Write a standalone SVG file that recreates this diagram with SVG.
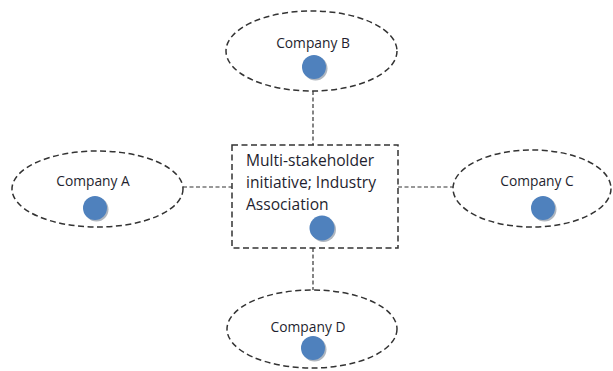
<svg xmlns="http://www.w3.org/2000/svg" width="613" height="371" viewBox="0 0 613 371">
<style>
.shape{fill:none;stroke:#333;stroke-width:1.5;stroke-dasharray:6 3.5}
.conn{fill:none;stroke:#333;stroke-width:1.2;stroke-dasharray:4 2.5}
.lbl{font-family:"Open Sans","Liberation Sans",sans-serif;font-size:13.8px;fill:#1f1f2f}
.blbl{font-family:"Open Sans","Liberation Sans",sans-serif;font-size:15.6px;fill:#1f1f2f}
.dot{fill:#4f81bd}
.sh{fill:#7a8694;opacity:0.6}
</style>
<rect width="613" height="371" fill="#fff"/>
<g id="connectors">
<line class="conn" x1="313" y1="91" x2="313" y2="145"/>
<line class="conn" x1="313" y1="248" x2="313" y2="290"/>
<line class="conn" x1="183" y1="187" x2="232" y2="187"/>
<line class="conn" x1="398" y1="187" x2="453" y2="187"/>
</g>
<g id="companyB">
<ellipse class="shape" cx="311.5" cy="51" rx="85.5" ry="40"/>
<text class="lbl" x="313" y="48" text-anchor="middle">Company B</text>
<circle class="sh" cx="315.5" cy="68.5" r="12"/>
<circle class="dot" cx="314" cy="67" r="12"/>
</g>
<g id="companyA">
<ellipse class="shape" cx="97.5" cy="189" rx="85.5" ry="38"/>
<text class="lbl" x="93" y="186" text-anchor="middle">Company A</text>
<circle class="sh" cx="96.5" cy="209.5" r="12"/>
<circle class="dot" cx="95" cy="208" r="12"/>
</g>
<g id="companyC">
<ellipse class="shape" cx="532" cy="188.5" rx="79" ry="38.5"/>
<text class="lbl" x="537" y="186" text-anchor="middle">Company C</text>
<circle class="sh" cx="544.5" cy="209.5" r="12"/>
<circle class="dot" cx="543" cy="208" r="12"/>
</g>
<g id="companyD">
<ellipse class="shape" cx="312" cy="329" rx="85" ry="39"/>
<text class="lbl" x="308" y="332" text-anchor="middle">Company D</text>
<circle class="sh" cx="314.5" cy="349.5" r="12"/>
<circle class="dot" cx="313" cy="348" r="12"/>
</g>
<g id="initiative">
<rect class="shape" x="232" y="145" width="166" height="103"/>
<text class="blbl" x="246" y="166">Multi-stakeholder</text>
<text class="blbl" x="246" y="188">initiative; Industry</text>
<text class="blbl" x="246" y="210">Association</text>
<circle class="sh" cx="323.5" cy="229.5" r="12.5"/>
<circle class="dot" cx="322" cy="228" r="12.5"/>
</g>
</svg>
